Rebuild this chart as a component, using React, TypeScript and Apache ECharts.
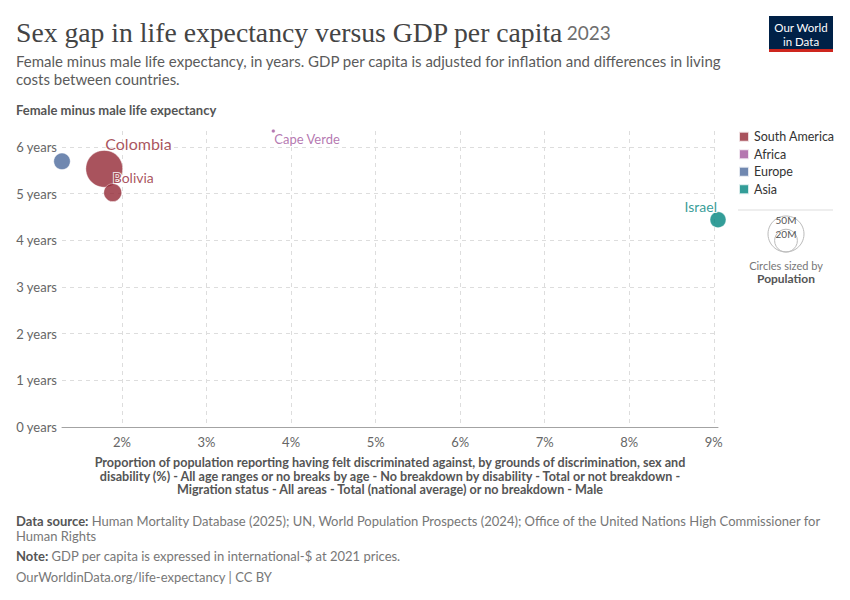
import React, { useEffect, useRef } from "react";
import * as echarts from "echarts";

// Data (x: discrimination %, y: female minus male life expectancy, pop in millions)
const regions = ["South America", "Africa", "Europe", "Asia"];
const regionColors = ["#932834", "#A2559C", "#4C6A9C", "#00847E"];
const southAmerica = [
  { name: "Colombia", x: 1.79, y: 5.53, pop: 52.3 },
  { name: "Bolivia", x: 1.89, y: 5.02, pop: 12.4 },
];
const africa = [{ name: "Cape Verde", x: 3.79, y: 6.34, pop: 0.52 }];
const europe = [{ name: "", x: 1.29, y: 5.69, pop: 10.5 }];
const asia = [{ name: "Israel", x: 9.05, y: 4.44, pop: 9.8 }];
const xTicks = [2, 3, 4, 5, 6, 7, 8, 9];
const yTicks = [0, 1, 2, 3, 4, 5, 6];

const labelCfg: Record<string, any> = {
  Colombia: { offset: [1, -25], fontSize: 16, align: "left" },
  Bolivia: { offset: [0, -15], fontSize: 14, align: "left" },
  "Cape Verde": { offset: [1, 8], fontSize: 13, align: "left" },
  Israel: { offset: [-1, -13], fontSize: 14, align: "right" },
};

const LEGEND_R50 = 18;
const sizeOf = (pop: number) => 2 * LEGEND_R50 * Math.sqrt(pop / 50);

export default function App() {
  const ref = useRef<HTMLDivElement>(null);
  useEffect(() => {
    document.body.style.margin = "0";
    const chart = echarts.init(ref.current!, null, { renderer: "svg" });
    const groups = [southAmerica, africa, europe, asia];
    const series = groups.map((g, i) => ({
      type: "scatter",
      name: regions[i],
      data: g.map((d) => ({
        name: d.name,
        value: [d.x, d.y, d.pop],
        label: d.name && labelCfg[d.name]
          ? {
              show: true,
              formatter: d.name,
              position: "inside",
              offset: labelCfg[d.name].offset,
              align: labelCfg[d.name].align,
              verticalAlign: "middle",
              fontSize: labelCfg[d.name].fontSize,
              color: regionColors[i],
              fontFamily: "Lato",
              textBorderColor: "#fff",
              textBorderWidth: 2,
            }
          : { show: false },
      })),
      symbolSize: (v: number[]) => sizeOf(v[2]),
      itemStyle: {
        color: regionColors[i],
        opacity: 0.8,
        borderColor: "#fff",
        borderWidth: 0.5,
      },
      emphasis: { disabled: true },
    }));

    const txt = (x: number, y: number, text: string, style: any = {}) => ({
      type: "text",
      x,
      y,
      style: {
        text,
        fontFamily: "Lato",
        fontSize: 13,
        fill: "#6e6e6e",
        textVerticalAlign: "middle",
        ...style,
      },
    });

    chart.setOption({
      animation: false,
      grid: { left: 62, right: 132, top: 131, bottom: 173 },
      xAxis: {
        type: "value",
        min: 1.29,
        max: 9.05,
        axisLine: { show: true, lineStyle: { color: "#a3a3a3" } },
        axisTick: { show: false, customValues: xTicks },
        axisLabel: {
          customValues: xTicks,
          formatter: (v: number) => `${v}%`,
          fontFamily: "Lato",
          fontSize: 13,
          color: "#666",
          margin: 8,
        },
        splitLine: {
          show: true,
          lineStyle: { color: "#ddd", type: [4, 4] },
        },
      },
      yAxis: {
        type: "value",
        min: 0,
        max: 6.34,
        axisLine: { show: false },
        axisTick: { show: false, customValues: yTicks },
        axisLabel: {
          customValues: yTicks,
          formatter: (v: number) => `${v} years`,
          fontFamily: "Lato",
          fontSize: 13,
          color: "#666",
          margin: 5,
        },
        splitLine: {
          show: true,
          lineStyle: { color: "#ddd", type: [4, 4] },
        },
      },
      legend: {
        orient: "vertical",
        left: 738,
        top: 129,
        padding: 0,
        itemWidth: 10,
        itemHeight: 10,
        itemGap: 2,
        icon: "rect",
        selectedMode: false,
        textStyle: { fontFamily: "Lato", fontSize: 12.5, color: "#333", lineHeight: 15.5 },
        data: regions,
      },
      series,
      graphic: [
        {
          type: "text",
          x: 16,
          y: 32,
          style: {
            text: "{t|Sex gap in life expectancy versus GDP per capita} {y|2023}",
            textVerticalAlign: "middle",
            rich: {
              t: { fontFamily: "Liberation Serif", fontSize: 27.7, fill: "#444" },
              y: { fontFamily: "Lato", fontSize: 19, fill: "#6e6e6e" },
            },
          },
        },
        txt(16, 61, "Female minus male life expectancy, in years. GDP per capita is adjusted for inflation and differences in living", { fontSize: 15, fill: "#5b5b5b" }),
        txt(16, 79, "costs between countries.", { fontSize: 15, fill: "#5b5b5b" }),
        txt(16, 110, "Female minus male life expectancy", { fontSize: 13, fontWeight: "bold", fill: "#555" }),
        // x-axis title
        {
          type: "text",
          x: 390,
          y: 476,
          style: {
            text:
              "Proportion of population reporting having felt discriminated against, by grounds of discrimination, sex and\n" +
              "disability (%) - All age ranges or no breaks by age - No breakdown by disability - Total or not breakdown -\n" +
              "Migration status - All areas - Total (national average) or no breakdown - Male",
            fontFamily: "Lato",
            fontSize: 12.6,
            fontWeight: "bold",
            fill: "#555",
            textAlign: "center",
            textVerticalAlign: "middle",
            lineHeight: 13.5,
          },
        },
        // footer
        {
          type: "text",
          x: 16,
          y: 521,
          style: {
            text: "{b|Data source:} Human Mortality Database (2025); UN, World Population Prospects (2024); Office of the United Nations High Commissioner for",
            fontFamily: "Lato",
            fontSize: 13,
            fill: "#777",
            textVerticalAlign: "middle",
            rich: { b: { fontWeight: "bold", fill: "#555", fontFamily: "Lato", fontSize: 13 } },
          },
        },
        txt(16, 536, "Human Rights", { fill: "#777" }),
        {
          type: "text",
          x: 16,
          y: 556,
          style: {
            text: "{b|Note:} GDP per capita is expressed in international-$ at 2021 prices.",
            fontFamily: "Lato",
            fontSize: 13,
            fill: "#777",
            textVerticalAlign: "middle",
            rich: { b: { fontWeight: "bold", fill: "#555", fontFamily: "Lato", fontSize: 13 } },
          },
        },
        txt(16, 577, "OurWorldinData.org/life-expectancy | CC BY", { fill: "#777" }),
        // logo
        { type: "rect", shape: { x: 769, y: 16, width: 64, height: 36 }, style: { fill: "#002147" } },
        { type: "rect", shape: { x: 769, y: 49, width: 64, height: 3 }, style: { fill: "#ce261e" } },
        txt(801, 27, "Our World", { fill: "#fff", fontSize: 11.5, textAlign: "center" }),
        txt(801, 41, "in Data", { fill: "#fff", fontSize: 11.5, textAlign: "center" }),
        // size legend
        { type: "line", shape: { x1: 738, y1: 210, x2: 833, y2: 210 }, style: { stroke: "#ddd", lineWidth: 1 } },
        { type: "circle", shape: { cx: 786, cy: 252 - LEGEND_R50, r: LEGEND_R50 }, style: { fill: "none", stroke: "#bbb", lineWidth: 1 } },
        { type: "circle", shape: { cx: 786, cy: 252 - sizeOf(20) / 2, r: sizeOf(20) / 2 }, style: { fill: "none", stroke: "#bbb", lineWidth: 1 } },
        txt(786, 220, "50M", { fontSize: 10, fill: "#555", textAlign: "center" }),
        txt(786, 234, "20M", { fontSize: 10, fill: "#555", textAlign: "center" }),
        txt(786, 265, "Circles sized by", { fontSize: 11, fill: "#777", textAlign: "center" }),
        txt(786, 278, "Population", { fontSize: 12, fontWeight: "bold", fill: "#555", textAlign: "center" }),
      ],
    });
    return () => chart.dispose();
  }, []);
  return <div ref={ref} style={{ width: 850, height: 600 }} />;
}
